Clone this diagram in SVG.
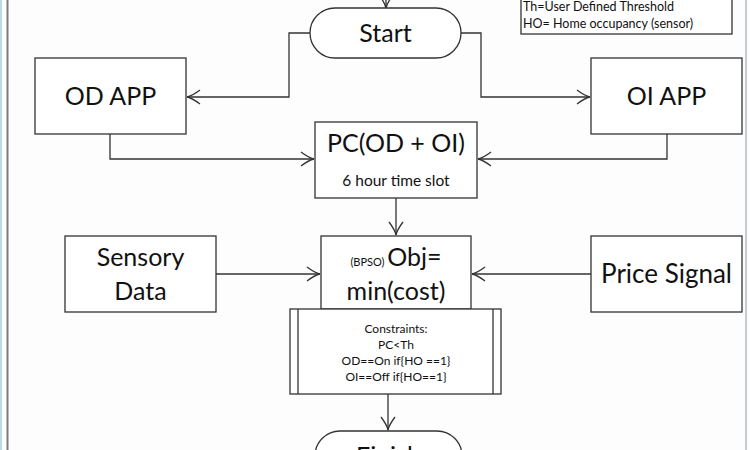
<svg xmlns="http://www.w3.org/2000/svg" width="750" height="450" viewBox="0 0 750 450">
<style>
.bx{fill:#fff;stroke:#333;stroke-width:1.3}
.ln{fill:none;stroke:#333;stroke-width:1.3}
.t{font-family:Lato,"Liberation Sans",sans-serif;fill:#111;text-anchor:middle}
.big{font-size:25px}
.mid{font-size:15.5px}
.sm{font-size:12px}
.lg{font-family:Lato,"Liberation Sans",sans-serif;fill:#111;font-size:12.5px}
</style>
<defs>
<marker id="ah" markerUnits="userSpaceOnUse" markerWidth="16" markerHeight="16" viewBox="-14 -8 16 16" refX="0" refY="0" orient="auto">
<path d="M-13,-7 Q-5,-1 0,0 Q-5,1 -13,7" fill="none" stroke="#333" stroke-width="1.3"/>
</marker>
</defs>
<rect width="750" height="450" fill="#fdfdfd"/>
<line x1="1" y1="0" x2="1" y2="450" stroke="#b8dde2" stroke-width="2"/>
<line x1="7.5" y1="0" x2="7.5" y2="450" stroke="#7a7a7a" stroke-width="2"/>
<line x1="746" y1="0" x2="746" y2="450" stroke="#c4ccd2" stroke-width="2"/>

<g id="connectors">
<path class="ln" d="M386,-2 V8" marker-end="url(#ah)"/>
<path class="ln" d="M310,33 H289 V97 H187" marker-end="url(#ah)"/>
<path class="ln" d="M461,33 H481 V97 H590" marker-end="url(#ah)"/>
<path class="ln" d="M110,134 V159 H314" marker-end="url(#ah)"/>
<path class="ln" d="M667,134 V159 H478" marker-end="url(#ah)"/>
<path class="ln" d="M396,198 V235" marker-end="url(#ah)"/>
<path class="ln" d="M216,274 H320" marker-end="url(#ah)"/>
<path class="ln" d="M591,274 H472" marker-end="url(#ah)"/>
<path class="ln" d="M388,394 V430" marker-end="url(#ah)"/>
</g>

<g id="legend">
<rect class="bx" x="521" y="-10" width="211" height="44"/>
<text class="lg" x="523" y="11">Th=User Defined Threshold</text>
<text class="lg" x="523" y="28">HO= Home occupancy (sensor)</text>
</g>

<g id="start">
<rect class="bx" x="310" y="8" width="151" height="50" rx="25"/>
<text class="t big" x="385.5" y="42">Start</text>
</g>

<g id="od-app">
<rect class="bx" x="35" y="58" width="151" height="76"/>
<text class="t big" x="110.5" y="105">OD APP</text>
</g>

<g id="oi-app">
<rect class="bx" x="591" y="58" width="151" height="76"/>
<text class="t big" x="666.5" y="105">OI APP</text>
</g>

<g id="pc">
<rect class="bx" x="315" y="122" width="162" height="76"/>
<text class="t big" x="396" y="152">PC(OD + OI)</text>
<text class="t mid" x="396" y="186">6 hour time slot</text>
</g>

<g id="sensory">
<rect class="bx" x="65" y="236" width="151" height="76"/>
<text class="t big" x="140.5" y="266">Sensory</text>
<text class="t big" x="140.5" y="300">Data</text>
</g>

<g id="price">
<rect class="bx" x="591" y="236" width="151" height="76"/>
<text class="t" x="666.5" y="283" font-size="26px">Price Signal</text>
</g>

<g id="obj">
<rect class="bx" x="321" y="236" width="150" height="73"/>
<text class="t" x="396" y="266"><tspan font-size="11px">(BPSO) </tspan><tspan font-size="25px">Obj=</tspan></text>
<text class="t big" x="396" y="300">min(cost)</text>
</g>

<g id="constraints">
<rect class="bx" x="290" y="309" width="211" height="85"/>
<line class="ln" x1="298" y1="309" x2="298" y2="394"/>
<line class="ln" x1="493" y1="309" x2="493" y2="394"/>
<text class="t sm" x="396" y="333">Constraints:</text>
<text class="t sm" x="396" y="349">PC&lt;Th</text>
<text class="t sm" x="396" y="365">OD==On if{HO ==1}</text>
<text class="t sm" x="396" y="381">OI==Off if{HO==1}</text>
</g>

<g id="finish">
<rect class="bx" x="315" y="431" width="147" height="50" rx="25"/>
<text class="t big" x="388.5" y="465">Finish</text>
</g>
</svg>
